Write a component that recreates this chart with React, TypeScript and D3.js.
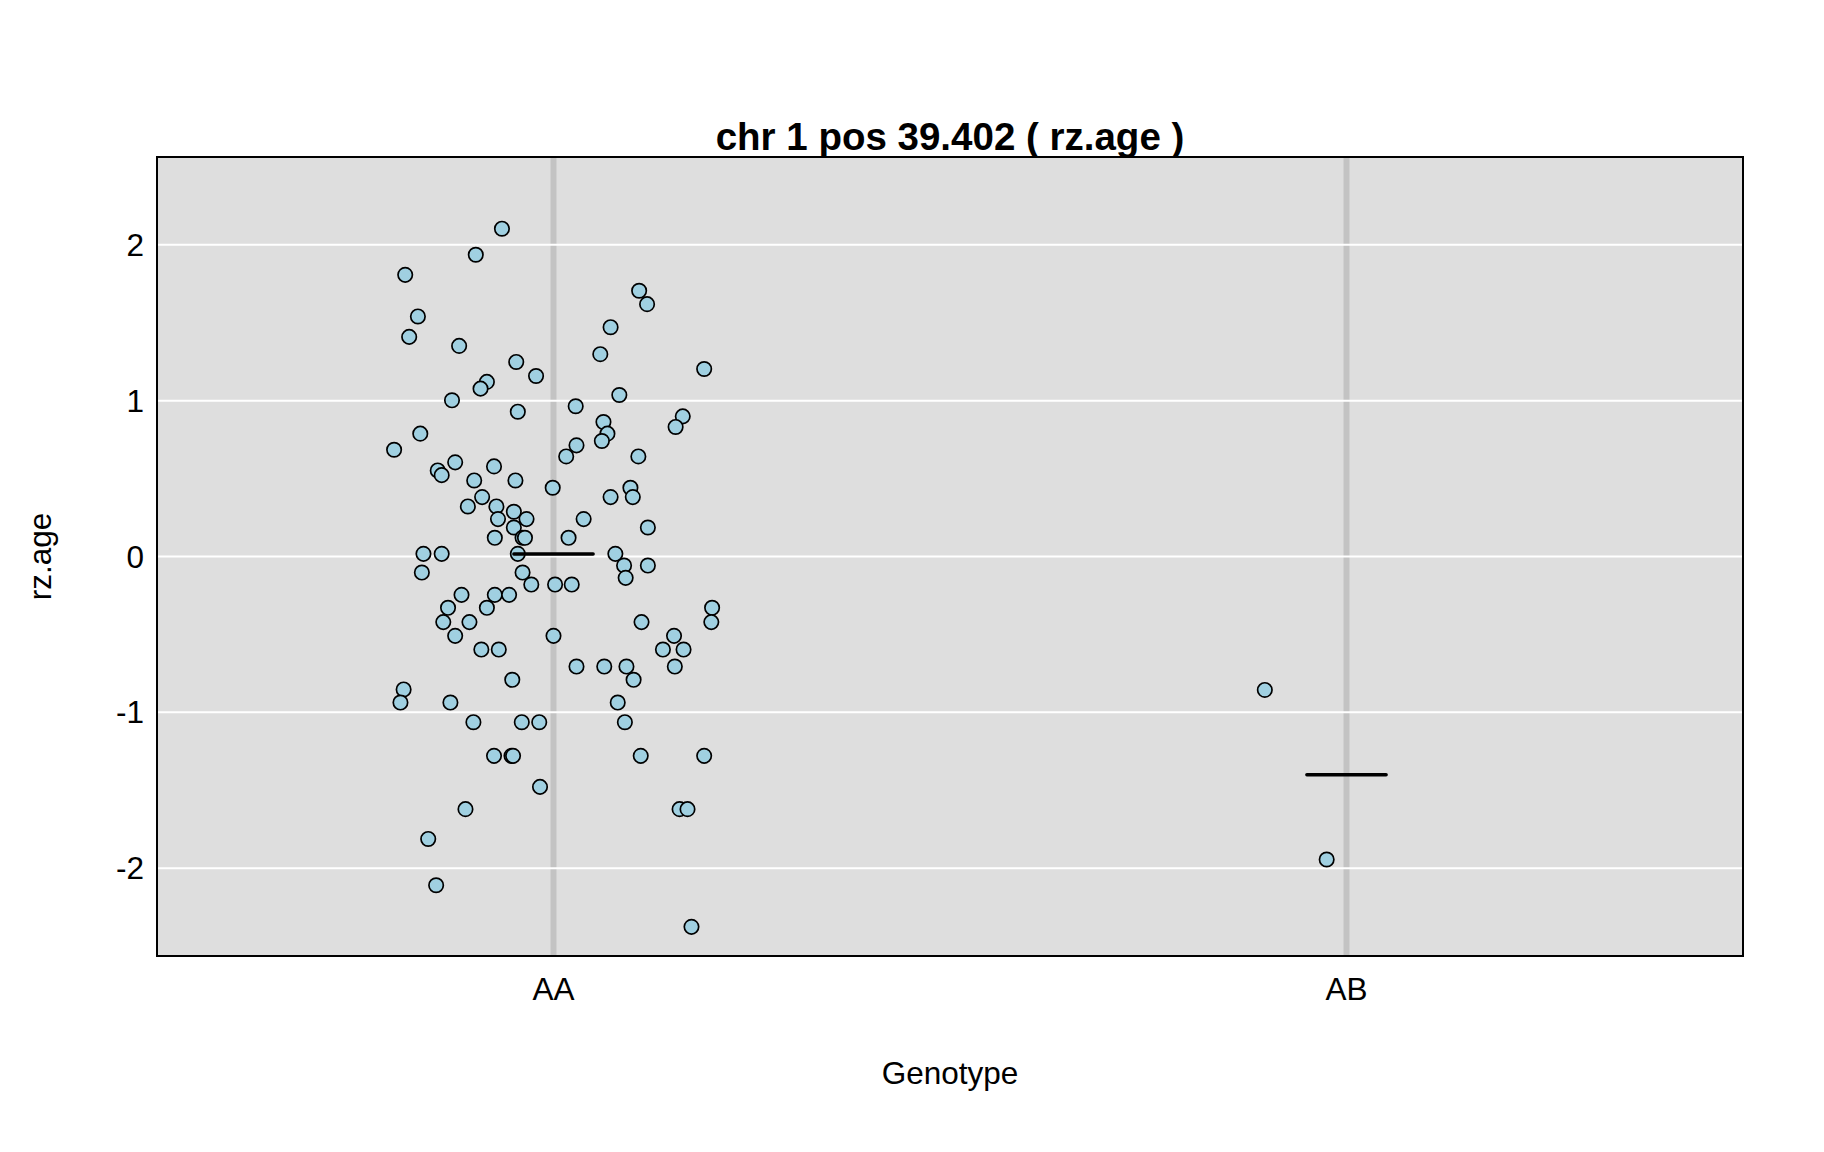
import React from "react";
import * as d3 from "d3";

const genotypes = ["AA", "AB"];
const yTicks = [-2, -1, 0, 1, 2];

// AA group: phenotype values and horizontal jitter (in category units)
const aaValues = [
  2.103, 1.936, 1.807, 1.705, 1.619, 1.54, 1.471, 1.409, 1.351, 1.298,
  1.248, 1.203, 1.158, 1.12, 1.077, 1.036, 1.002, 0.964, 0.929, 0.899,
  0.863, 0.831, 0.788, 0.788, 0.741, 0.713, 0.685, 0.642, 0.642, 0.604,
  0.578, 0.552, 0.522, 0.488, 0.488, 0.441, 0.441, 0.381, 0.381, 0.381,
  0.321, 0.321, 0.287, 0.24, 0.24, 0.24, 0.186, 0.186, 0.12, 0.12,
  0.12, 0.12, 0.017, 0.017, 0.017, 0.017, -0.103, -0.103, -0.058, -0.058,
  -0.137, -0.18, -0.18, -0.18,
  -0.246, -0.246, -0.246, -0.329, -0.329, -0.329, -0.421, -0.421, -0.421, -0.421,
  -0.509, -0.509, -0.509, -0.597, -0.597, -0.597, -0.597, -0.706, -0.706, -0.706,
  -0.706, -0.791, -0.791, -0.853, -0.937, -0.937, -0.937, -1.063, -1.063, -1.063,
  -1.063, -1.279, -1.279, -1.279, -1.279, -1.279, -1.478, -1.621, -1.621, -1.621,
  -1.812, -2.109, -2.376,
];
const aaJitter = [
  -0.065, -0.098, -0.187, 0.108, 0.118, -0.171, 0.072, -0.182, -0.119, 0.059,
  -0.047, 0.19, -0.022, -0.084, -0.092, 0.083, -0.128, 0.028, -0.045, 0.163,
  0.063, 0.154, -0.168, 0.068, 0.061, 0.029, -0.201, 0.016, 0.107, -0.124,
  -0.075, -0.146, -0.141, -0.1, -0.048, -0.001, 0.097, -0.09, 0.072, 0.1,
  -0.108, -0.072, -0.05, -0.07, -0.034, 0.038, -0.05, 0.119, -0.074, -0.039,
  -0.036, 0.019, -0.164, -0.141, -0.045, 0.078, -0.166, -0.039, 0.089, 0.119,
  0.091, -0.028, 0.002, 0.023,
  -0.116, -0.074, -0.056, -0.133, -0.084, 0.2, -0.139, -0.106, 0.111, 0.199,
  -0.124, 0.0, 0.152, -0.091, -0.069, 0.138, 0.164, 0.029, 0.064, 0.092,
  0.153, -0.052, 0.101, -0.189, -0.193, -0.13, 0.081, -0.101, -0.04, -0.018,
  0.09, -0.075, -0.053, -0.051, 0.11, 0.19, -0.017, -0.111, 0.159, 0.169,
  -0.158, -0.148, 0.174,
];

// AB group
const abValues = [-0.856, -1.944];
const abJitter = [-0.103, -0.025];

const title = "chr 1 pos 39.402 ( rz.age )";
const xLabel = "Genotype";
const yLabel = "rz.age";

const W = 1824;
const H = 1152;
const M = { left: 157, right: 1743, top: 157, bottom: 956 };
const FONT = "'Liberation Sans', Arial, Helvetica, sans-serif";

export default function App() {
  const x = d3.scaleLinear().domain([0.5, 2.5]).range([M.left, M.right]);
  const y = d3.scaleLinear().domain([-2.563, 2.563]).range([M.bottom, M.top]);

  const groups = [
    { name: genotypes[0], pos: 1, vals: aaValues, jit: aaJitter },
    { name: genotypes[1], pos: 2, vals: abValues, jit: abJitter },
  ];

  const cx = (M.left + M.right) / 2;
  const cy = (M.top + M.bottom) / 2;

  return (
    <svg
      width={W}
      height={H}
      style={{ position: "absolute", left: 0, top: 0, background: "#fff" }}
      fontFamily={FONT}
    >
      <rect x={M.left} y={M.top} width={M.right - M.left} height={M.bottom - M.top} fill="#dedede" />
      {groups.map((g) => (
        <line key={"v" + g.name} x1={x(g.pos)} x2={x(g.pos)} y1={M.top} y2={M.bottom} stroke="#c3c3c3" strokeWidth={6} />
      ))}
      {yTicks.map((t) => (
        <line key={"h" + t} x1={M.left} x2={M.right} y1={y(t)} y2={y(t)} stroke="#ffffff" strokeWidth={2} />
      ))}
      {groups.map((g) =>
        g.vals.map((v, i) => (
          <circle
            key={g.name + i}
            cx={x(g.pos + g.jit[i])}
            cy={y(v)}
            r={7.2}
            fill="#a0d0e1"
            stroke="#000"
            strokeWidth={1.7}
          />
        ))
      )}
      {groups.map((g) => {
        const m = d3.mean(g.vals) as number;
        return (
          <line
            key={"m" + g.name}
            x1={x(g.pos - 0.05)}
            x2={x(g.pos + 0.05)}
            y1={y(m)}
            y2={y(m)}
            stroke="#000"
            strokeWidth={3.4}
            strokeLinecap="round"
          />
        );
      })}
      <rect x={M.left} y={M.top} width={M.right - M.left} height={M.bottom - M.top} fill="none" stroke="#000" strokeWidth={2} />
      {yTicks.map((t) => (
        <text key={"yt" + t} x={144} y={y(t)} textAnchor="end" dominantBaseline="central" fontSize={31.5}>
          {t}
        </text>
      ))}
      {groups.map((g) => (
        <text key={"xt" + g.name} x={x(g.pos)} y={1000} textAnchor="middle" fontSize={31.5}>
          {g.name}
        </text>
      ))}
      <text x={cx} y={1084} textAnchor="middle" fontSize={31.5}>
        {xLabel}
      </text>
      <text transform={`translate(51,${cy}) rotate(-90)`} textAnchor="middle" fontSize={31.5}>
        {yLabel}
      </text>
      <text x={cx} y={150} textAnchor="middle" fontSize={38.5} fontWeight="bold">
        {title}
      </text>
    </svg>
  );
}
